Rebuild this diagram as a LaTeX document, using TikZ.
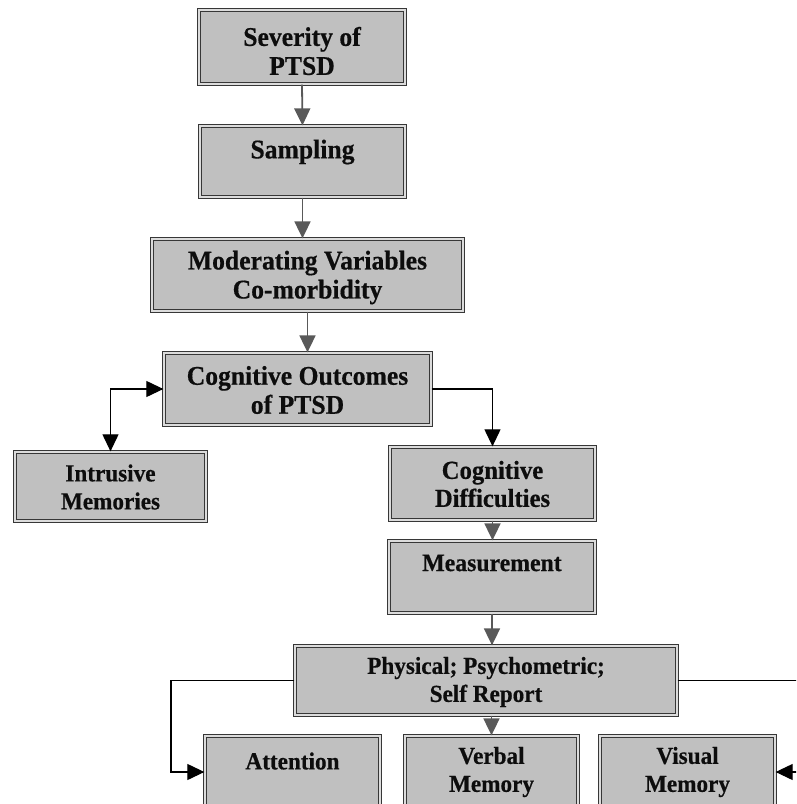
\documentclass[tikz,border=0pt]{standalone}
\usepackage{fontspec}
\setmainfont{Liberation Serif}[FakeStretch=0.95, BoldFeatures={FakeBold=0.5}]
\usetikzlibrary{arrows.meta}
\definecolor{boxfill}{RGB}{192,192,192}
\definecolor{edgecol}{RGB}{55,55,55}
\begin{document}
\begin{tikzpicture}[x=1pt,y=-1pt,
  box/.style={draw=edgecol, line width=1.3pt, double=boxfill!55!white, double distance=1.3pt,
    fill=boxfill, inner sep=0pt},
  txt/.style={inner sep=0pt, align=center, text=black!95},
  big/.style={txt, font=\fontsize{27}{29}\selectfont\bfseries},
  mid/.style={txt, font=\fontsize{26}{28}\selectfont\bfseries},
  med/.style={txt, font=\fontsize{25}{28}\selectfont\bfseries},
  sml/.style={txt, font=\fontsize{24.4}{28}\selectfont\bfseries},
  arr/.style={-{Triangle[width=16pt,length=17pt]}, draw=black!65, line width=1.8pt},
  conn/.style={-{Triangle[width=16pt,length=17pt]}, draw=black, line width=1.1pt},
  biconn/.style={{Triangle[width=16pt,length=17pt]}-{Triangle[width=16pt,length=17pt]}, draw=black, line width=1.1pt}]
\useasboundingbox (0,0) rectangle (796,804);
\clip (0,0) rectangle (796,804);

% boxes
\node[box, minimum width=206pt, minimum height=74pt] (sev) at (302,47) {};
\node[box, minimum width=205pt, minimum height=71pt] (samp) at (302.5,161.5) {};
\node[box, minimum width=311pt, minimum height=72pt] (mod) at (307.5,275) {};
\node[box, minimum width=267pt, minimum height=72pt] (cog) at (297.5,389) {};
\node[box, minimum width=191pt, minimum height=69pt] (intr) at (110.5,486.5) {};
\node[box, minimum width=205pt, minimum height=73pt] (cd) at (492.5,483.5) {};
\node[box, minimum width=206pt, minimum height=72pt] (meas) at (492,577) {};
\node[box, minimum width=382pt, minimum height=69pt] (phys) at (486,680.5) {};
\node[box, minimum width=175pt, minimum height=72pt] (att) at (292.5,772) {};
\node[box, minimum width=173pt, minimum height=72pt] (verb) at (491.5,772) {};
\node[box, minimum width=175pt, minimum height=72pt] (vis) at (687.5,772) {};

% texts
\node[big] (sev-t) at (302,51) {Severity of\\PTSD};
\node[big] (samp-t) at (302.5,152) {Sampling};
\node[big] (mod-t) at (307.5,277.5) {Moderating Variables\\Co-morbidity};
\node[big] (cog-t) at (297.5,390) {Cognitive Outcomes\\of PTSD};
\node[sml] (intr-t) at (110.5,487) {Intrusive\\Memories};
\node[mid] (cd-t) at (492.5,484) {Cognitive\\Difficulties};
\node[med] (meas-t) at (492,563) {Measurement};
\node[sml] (phys-t) at (486,682) {Physical; Psychometric;\\Self Report};
\node[sml] (att-t) at (292.5,761) {Attention};
\node[sml] (verb-t) at (491.5,772) {Verbal\\Memory};
\node[sml] (vis-t) at (687.5,772) {Visual\\Memory};

\coordinate (lturn) at (171,0);
\coordinate (rturn) at (810,0);

% connectors
\draw[arr] (sev.south) -- (samp.north);
\draw[arr] (samp.south) -- (samp.south |- mod.north);
\draw[arr] (mod.south) -- (mod.south |- cog.north);
\draw[biconn] (intr.north) |- (cog.west);
\draw[conn] (cog.east) -| (cd.north);
\draw[arr] (cd.south) -- (cd.south |- meas.north);
\draw[arr] (meas.south) -- (meas.south |- phys.north);
\draw[arr] (verb.north |- phys.south) -- (verb.north);
\draw[conn] (phys.west) -| (lturn |- att.west) -- (att.west);
\draw[conn] (phys.east) -| (rturn |- vis.east) -- (vis.east);
\end{tikzpicture}
\end{document}
